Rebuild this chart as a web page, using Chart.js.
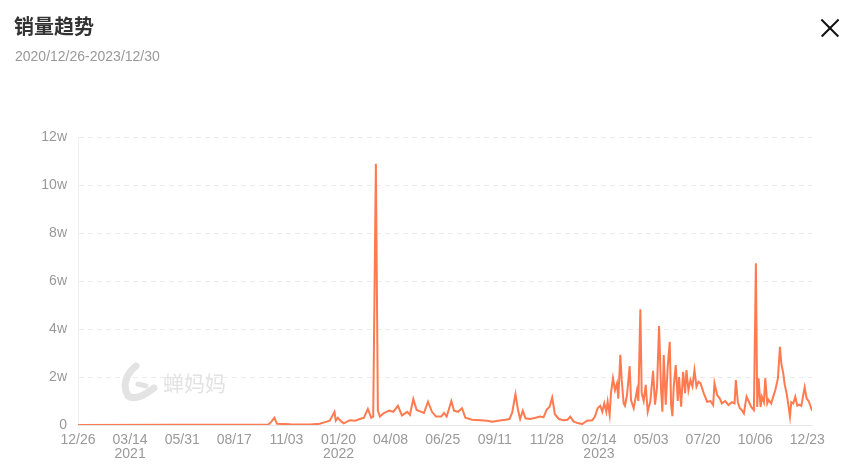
<!DOCTYPE html>
<html>
<head>
<meta charset="utf-8">
<script src="https://cdn.jsdelivr.net/npm/chart.js@4"></script>
<style>
  html, body { margin: 0; padding: 0; background: #fff; }
  #wrap { position: relative; width: 850px; height: 471px; overflow: hidden; font-family: "Liberation Sans", Arial, sans-serif; }
  #chart { position: absolute; left: 0; top: 0; }
  .title { position: absolute; left: 14px; top: 12px; font-size: 20px; font-weight: bold; color: #333; font-family: "Noto Sans CJK SC", sans-serif; line-height: 28px; }
  .sub { position: absolute; left: 15px; top: 48px; font-size: 14px; color: #999; line-height: 16px; }
  .close { position: absolute; left: 820px; top: 18px; width: 20px; height: 20px; }
  .close:before, .close:after { content: ""; position: absolute; left: -2px; top: 9px; width: 24px; height: 1.6px; background: #111; }
  .close:before { transform: rotate(45deg); }
  .close:after { transform: rotate(-45deg); }
  .mark { position: absolute; left: 120px; top: 362px; height: 40px; color: #e3e3e3; font-family: "Noto Sans CJK SC", sans-serif; font-size: 21px; }
  .mark span { position: absolute; left: 43px; top: 5px; white-space: nowrap; }
</style>
</head>
<body>
<div id="wrap">
  <canvas id="chart" width="850" height="471"></canvas>
  <div class="title">销量趋势</div>
  <div class="sub">2020/12/26-2023/12/30</div>
  <div class="close"></div>
  <div class="mark">
    <svg width="40" height="40" viewBox="0 0 40 40">
      <path d="M16 4 C6 12 2 24 8 34 C14 38 24 34 34 26" fill="none" stroke="#e3e3e3" stroke-width="7" stroke-linecap="round"/>
      <path d="M18 22 L26 24" fill="none" stroke="#e3e3e3" stroke-width="5" stroke-linecap="round"/>
    </svg>
    <span>蝉妈妈</span>
  </div>
</div>
<script>
// x = days since 2020/12/26, ticks every 78 days
const tickDays = [0, 78, 156, 234, 312, 390, 468, 546, 624, 702, 780, 858, 936, 1014, 1092];
const tickLabels = ['12/26', '03/14', '05/31', '08/17', '11/03', '01/20', '04/08', '06/25', '09/11', '11/28', '02/14', '05/03', '07/20', '10/06', '12/23'];
const tickYears = ['', '2021', '', '', '', '2022', '', '', '', '', '2023', '', '', '', ''];

// daily sales (day index, value)
const saleDays = [
  0, 285, 289, 294, 298, 318, 348, 362, 370, 377, 384, 386, 389, 394, 398, 407, 415, 422, 428, 434,
  439, 442, 446, 449, 452, 458, 466, 472, 479, 485, 493, 497, 502, 507, 514, 518, 524, 530, 536, 544,
  548, 552, 559, 563, 569, 575, 580, 590, 602, 613, 620, 629, 640, 646, 650, 655, 659, 662, 666, 670,
  677, 685, 692, 697, 702, 706, 710, 714, 720, 727, 733, 737, 742, 748, 755, 762, 770, 774, 778, 782,
  785, 788, 791, 793, 796, 798, 801, 804, 807, 809, 812, 814, 817, 819, 822, 826, 828, 832, 834, 837,
  839, 842, 844, 847, 850, 853, 857, 861, 864, 867, 870, 873, 875, 877, 880, 883, 886, 888, 890, 892,
  895, 898, 900, 903, 906, 909, 911, 914, 917, 920, 923, 926, 929, 932, 937, 942, 947, 951, 953, 957,
  961, 964, 969, 974, 979, 983, 985, 988, 991, 994, 997, 1001, 1004, 1008, 1012, 1015, 1017, 1019, 1022, 1024,
  1027, 1029, 1032, 1034, 1038, 1040, 1044, 1048, 1051, 1053, 1056, 1058, 1061, 1063, 1066, 1068, 1071, 1074, 1077, 1080,
  1083, 1085, 1088, 1091, 1094, 1097, 1099
];
const saleValues = [
  0, 200, 1200, 3000, 500, 300, 200, 500, 1200, 1800, 5500, 1800, 3000, 1500, 700, 2000, 1800, 2500, 3000, 6700,
  3000, 3500, 108800, 6000, 3500, 5000, 6000, 5500, 8000, 4000, 5500, 4200, 10800, 6300, 5500, 5000, 9700, 5500, 3500, 3500,
  5000, 3500, 10000, 6000, 5500, 7000, 3000, 2200, 2000, 1800, 1400, 1800, 2200, 2500, 5000, 12800, 6000, 2500, 6000, 2800,
  2500, 3000, 3500, 3200, 6500, 7500, 11500, 4500, 2500, 2000, 2200, 3500, 1500, 800, 400, 1800, 2000, 3500, 7000, 8000,
  5500, 9000, 5500, 9700, 4200, 13200, 19500, 14500, 17400, 11000, 29200, 19000, 9000, 8000, 12500, 24500, 10400, 7000, 10000, 14500,
  10000, 48200, 13300, 10000, 16700, 5500, 10000, 22600, 8500, 16000, 41200, 14500, 5500, 29200, 8500, 24300, 34700, 8500, 3700, 16000,
  25000, 10000, 20000, 7600, 22200, 13300, 22900, 14500, 18700, 16000, 22900, 16000, 18000, 17400, 13200, 9700, 10000, 8300, 17400, 12500,
  11000, 9000, 10000, 8300, 9500, 9000, 18700, 9500, 7000, 6200, 4800, 11800, 10000, 7500, 6200, 67400, 7500, 19500, 7500, 11800,
  9500, 19500, 9000, 10500, 9000, 11000, 14500, 19500, 32600, 25700, 21500, 17000, 13200, 9500, 3500, 9500, 9000, 11800, 8000, 8500,
  8000, 11000, 15700, 11000, 10000, 7600, 6000
];

const points = saleDays.map((d, i) => ({ x: d, y: saleValues[i] }));

new Chart(document.getElementById('chart'), {
  type: 'line',
  data: {
    datasets: [{
      data: points,
      borderColor: '#ff7a4f',
      backgroundColor: '#ff7a4f',
      borderWidth: 2,
      pointRadius: 0,
      tension: 0,
      fill: false
    }]
  },
  options: {
    responsive: false,
    animation: false,
    layout: { padding: { top: 137, right: 38, left: 0, bottom: 0 } },
    plugins: { legend: { display: false }, tooltip: { enabled: false } },
    scales: {
      x: {
        type: 'linear',
        min: 0,
        max: 1099,
        afterBuildTicks: (axis) => { axis.ticks = tickDays.map(v => ({ value: v })); },
        afterFit: (axis) => { axis.height = 46; },
        grid: { display: false, drawTicks: false },
        border: { display: true, color: '#e6e6e6', width: 1 },
        ticks: {
          autoSkip: false,
          maxRotation: 0,
          padding: 8,
          color: '#999',
          font: { family: '"Liberation Sans", Arial, sans-serif', size: 14, lineHeight: 1.0 },
          callback: (v) => {
            const i = tickDays.indexOf(v);
            if (i < 0) return '';
            return tickYears[i] ? [tickLabels[i], tickYears[i]] : tickLabels[i];
          }
        }
      },
      y: {
        min: 0,
        max: 120000,
        afterFit: (axis) => { axis.width = 78; },
        grid: { color: '#ebebeb', drawTicks: false },
        border: { display: true, color: '#f0f0f0', dash: [5, 4] },
        ticks: {
          stepSize: 20000,
          padding: 11,
          color: '#999',
          font: { family: '"Liberation Sans", Arial, sans-serif', size: 14 },
          callback: (v) => v === 0 ? '0' : (v / 10000) + 'w'
        }
      }
    }
  }
});
</script>
</body>
</html>
